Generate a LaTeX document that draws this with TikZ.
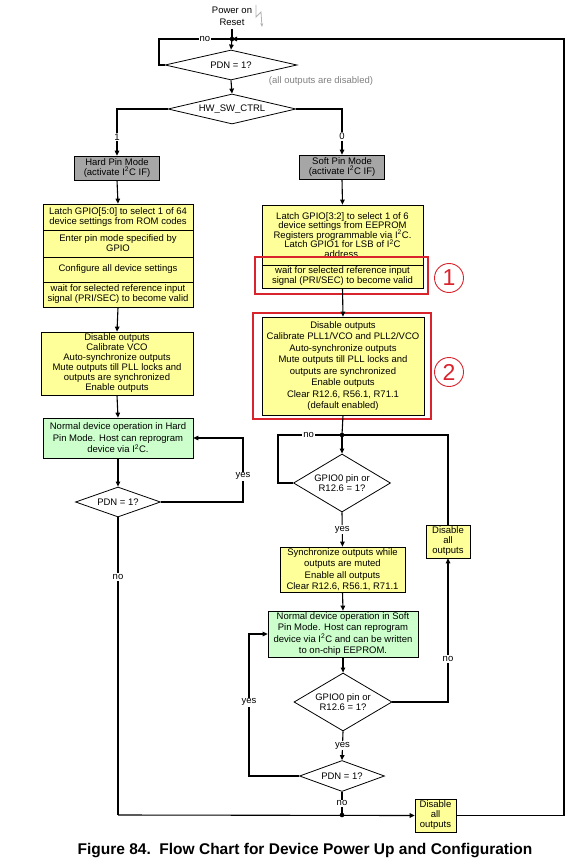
\documentclass[tikz,border=0pt]{standalone}
\usepackage{fontspec}
\setmainfont{Liberation Sans}
\usetikzlibrary{shapes.geometric,arrows.meta}
\definecolor{boxyellow}{HTML}{FFFF99}
\definecolor{boxgreen}{HTML}{CCFFCC}
\definecolor{boxgray}{HTML}{A6A6A6}
\definecolor{markred}{HTML}{D9232D}
\newcommand{\tightlines}{\setlength{\lineskiplimit}{-4pt}}
\begin{document}
\begin{tikzpicture}[x=1pt,y=-1pt,font=\fontsize{9.5}{10}\selectfont,
    wire/.style={line width=1.1pt},
    arr/.style={line width=1.1pt,-{Triangle[length=5pt,width=4.5pt]}},
    ybox/.style={draw,line width=0.7pt,fill=boxyellow,align=center,inner sep=1pt},
    gbox/.style={ybox,fill=boxgreen},
    modebox/.style={ybox,fill=boxgray},
    dia/.style={draw,diamond,line width=0.8pt,aspect=3,inner sep=0pt,align=center},
    lbl/.style={fill=white,inner sep=1pt},
    redframe/.style={draw=markred,line width=2.5pt},
    rednum/.style={circle,draw=markred,line width=0.9pt,minimum size=29pt,inner sep=0pt,text=markred,font=\fontsize{23}{23}\selectfont}]
    \useasboundingbox(0,0)rectangle(578,866);

    \node[align=center,font=\fontsize{9.5}{12}\selectfont](power)at(232,16){Power on\\Reset};
    \draw[gray!60,line width=0.8pt,-{Stealth[length=4pt]}](256,5)--(256,17)--(261,12)--(262,27);
    \coordinate(dotTop)at(232,39);
    \coordinate(loopT)at(159,39);
    \coordinate(loopR)at(564,39);
    \node[dia,minimum width=132,minimum height=30](pdnTop)at(231,65){PDN = 1?};
    \node[text=gray](note)at(321,81){(all outputs are disabled)};
    \node[dia,aspect=4,minimum width=128,minimum height=30](hwsw)at(232,109){HW\_SW\_CTRL};

    % hard pin mode
    \node[modebox,minimum width=85,minimum height=24](hardMode)at(117,168){Hard Pin Mode\\(activate I\textsuperscript{2}C IF)};
    \node[ybox,minimum width=150,minimum height=26](latchA)at(118,217){Latch GPIO[5:0] to select 1 of 64\\device settings from ROM codes};
    \node[ybox,minimum width=150,minimum height=27](enterA)at(118,243.5){Enter pin mode specified by\\GPIO};
    \node[ybox,minimum width=150,minimum height=25](confA)at(118,269.5){Configure all device settings};
    \node[ybox,minimum width=150,minimum height=25](waitA)at(118,294.5){wait for selected reference input\\signal (PRI/SEC) to become valid};
    \node[ybox,minimum width=152,minimum height=63](disA)at(117,363.5){Disable outputs\\Calibrate VCO\\Auto-synchronize outputs\\Mute outputs till PLL locks and\\outputs are synchronized\\Enable outputs};
    \node[gbox,minimum width=150,minimum height=40,font=\fontsize{9.5}{11.5}\selectfont](greenA)at(118,438){Normal device operation in Hard\\Pin Mode. Host can reprogram\\device via I\textsuperscript{2}C.};
    \node[dia,minimum width=85,minimum height=30](pdnA)at(118,502){PDN = 1?};
    \coordinate(yesA)at(243,438);
    \coordinate(noA)at(118,815);

    % soft pin mode
    \node[modebox,minimum width=85,minimum height=24](softMode)at(342,167){Soft Pin Mode\\(activate I\textsuperscript{2}C IF)};
    \node[ybox,minimum width=161,minimum height=60,font={\fontsize{9.5}{9.5}\selectfont\tightlines}](latchB)at(342.5,235){Latch GPIO[3:2] to select 1 of 6\\device settings from EEPROM\\Registers programmable via I\textsuperscript{2}C.\\Latch GPIO1 for LSB of I\textsuperscript{2}C\\address.};
    \node[ybox,minimum width=161,minimum height=23](waitB)at(342.5,276.5){wait for selected reference input\\signal (PRI/SEC) to become valid};
    \node[ybox,minimum width=162,minimum height=98,font=\fontsize{9.5}{11.5}\selectfont](calB)at(343,366){Disable outputs\\Calibrate PLL1/VCO and PLL2/VCO\\Auto-synchronize outputs\\Mute outputs till PLL locks and\\outputs are synchronized\\Enable outputs\\Clear R12.6, R56.1, R71.1\\(default enabled)};
    \draw[redframe](255,257)rectangle(428,294);
    \draw[redframe](253,313)rectangle(431,419);
    \node[rednum](numA)at(449,278){1};
    \node[rednum](numB)at(449,372){2};
    \coordinate(dotMid)at(342,435);
    \coordinate(loopL)at(278,435);
    \node[dia,aspect=1.7,minimum width=97,minimum height=58](gpioA)at(342,483){GPIO0 pin or\\R12.6 = 1?};
    \node[ybox,minimum width=44,minimum height=33](disM)at(448,541.5){Disable\\all\\outputs};
    \node[ybox,minimum width=125,minimum height=45,font=\fontsize{9.5}{11.5}\selectfont](syncB)at(342.5,569.5){Synchronize outputs while\\outputs are muted\\Enable all outputs\\Clear R12.6, R56.1, R71.1};
    \node[gbox,minimum width=150,minimum height=46,font=\fontsize{9.5}{11.5}\selectfont](greenB)at(343,634){Normal device operation in Soft\\Pin Mode. Host can reprogram\\device via I\textsuperscript{2}C and can be written\\to on-chip EEPROM.};
    \node[dia,aspect=1.7,minimum width=98,minimum height=58](gpioB)at(343,702){GPIO0 pin or\\R12.6 = 1?};
    \node[dia,minimum width=85,minimum height=31](pdnB)at(342,776){PDN = 1?};
    \coordinate(loopY)at(249,634);
    \coordinate(dotBot)at(342,815);
    \node[ybox,minimum width=41,minimum height=33](disB)at(435.5,815.5){Disable\\all\\outputs};

    \node[font=\bfseries\fontsize{15.5}{17}\selectfont](caption)at(305,851){Figure 84.\ \ Flow Chart for Device Power Up and Configuration};

    \draw[wire](power.south)--(dotTop);
    \draw[arr](dotTop)--(pdnTop.north);
    \draw[wire](pdnTop.west)-|(loopT)--(dotTop)node[pos=0.63,lbl]{no};
    \draw[arr](pdnTop.south)--(hwsw.north);
    \draw[arr](hwsw.west)-|(hardMode.north)node[pos=0.8,lbl]{1};
    \draw[arr](hwsw.east)-|(softMode.north)node[pos=0.8,lbl]{0};
    \draw[arr](hardMode.south)--(latchA.north);
    \draw[arr](waitA.south)--(disA.north);
    \draw[arr](disA.south)--(greenA.north);
    \draw[arr](greenA.south)--(pdnA.north);
    \draw[arr](pdnA.east)-|(yesA)node[pos=0.7,lbl]{yes}--(greenA.east);
    \draw[wire](pdnA.south)--(noA)node[pos=0.2,lbl]{no};
    \draw[arr](noA)--(disB.west);
    \draw[arr](softMode.south)--(latchB.north);
    \draw[arr](waitB.south)--(calB.north);
    \draw[wire](calB.south)--(dotMid);
    \draw[arr](dotMid)--(gpioA.north);
    \draw[wire](gpioA.west)-|(loopL)--(dotMid)node[pos=0.48,lbl]{no};
    \draw[wire](disM.north)|-(dotMid);
    \draw[arr](gpioA.south)--(syncB.north)node[midway,lbl]{yes};
    \draw[arr](syncB.south)--(greenB.north);
    \draw[arr](greenB.south)--(gpioB.north);
    \draw[arr](gpioB.east)-|(disM.south)node[pos=0.65,lbl]{no};
    \draw[arr](gpioB.south)--(pdnB.north)node[midway,lbl]{yes};
    \draw[arr](pdnB.west)-|(loopY)node[pos=0.76,lbl]{yes}--(greenB.west);
    \draw[wire](pdnB.south)--(dotBot)node[midway,lbl]{no};
    \draw[arr](disB.east)-|(loopR)--(dotTop);
    \fill(dotTop)circle(2.3);
    \fill(dotMid)circle(2.3);
    \fill(dotBot)circle(2.3);
\end{tikzpicture}
\end{document}
